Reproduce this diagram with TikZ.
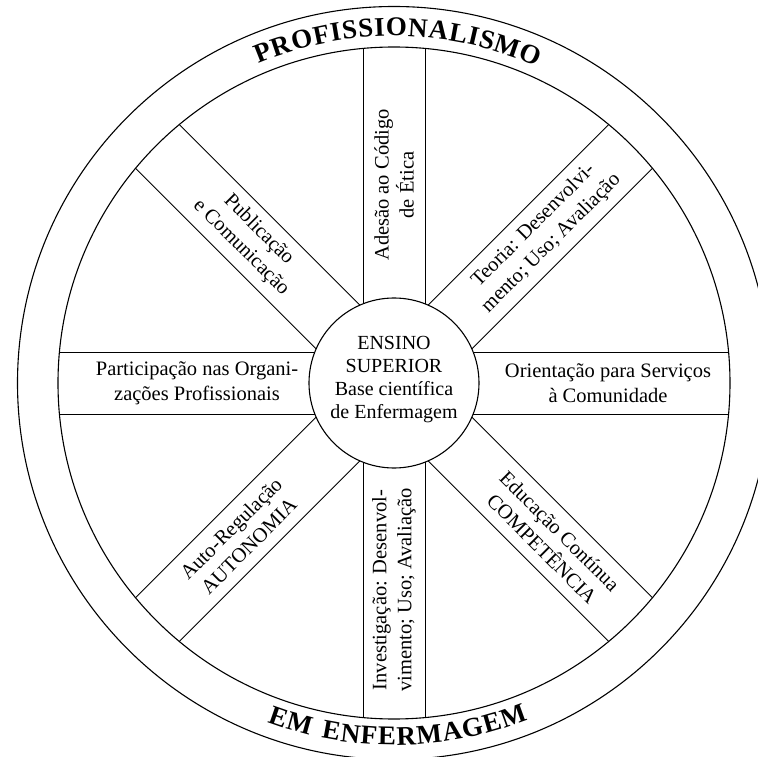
\documentclass[tikz,border=0pt]{standalone}
\usepackage{fontspec}
\setmainfont{Liberation Serif}
\begin{document}
\begin{tikzpicture}[x=1bp,y=1bp,
  ring/.style={line width=1.1bp},
  bandline/.style={line width=0.9bp},
  bandtext/.style={align=center, font=\fontsize{20.5bp}{25bp}\selectfont, inner sep=0pt},
  hubtext/.style={align=center, font=\fontsize{20bp}{23bp}\selectfont, inner sep=0pt},
  arcletter/.style={anchor=base, inner sep=0pt, font=\fontsize{27bp}{30bp}\selectfont\bfseries},
]
\useasboundingbox (-394,-374) rectangle (364,383);
\clip (-394,-374) rectangle (364,383);
\fill[white] (-394,-374) rectangle (364,383);
% rings
\draw[ring] (0,0) circle[radius=376.5];
\draw[ring] (0,0) circle[radius=336];
% hub
\node[circle, draw, ring, minimum size=170bp, inner sep=0pt] (hub) at (0,0) {};
\node[hubtext] (hubt) at (0,3) {ENSINO\\SUPERIOR\\Base científica\\de Enfermagem};
% spokes
\foreach \a in {0,45,...,315} {
  \draw[bandline, rotate=\a] (79.1,31) -- (334.6,31) (79.1,-31) -- (334.6,-31);
}
% spoke texts
\node[bandtext, rotate=90]  (t90)  at (90:198)  {Adesão ao Código\\de Ética};
\node[bandtext, rotate=45]  (t45)  at (45:210)  {Teoria: Desenvolvi-\\mento; Uso; Avaliação};
\node[bandtext]             (t0)   at (0:214)   {Orientação para Serviços\\à Comunidade};
\node[bandtext, rotate=-45] (t315) at (-45:222) {Educação Contínua\\COMPETÊNCIA};
\node[bandtext, rotate=90]  (t270) at (270:207) {Investigação: Desenvol-\\vimento; Uso; Avaliação};
\node[bandtext, rotate=45]  (t225) at (225:218) {Auto-Regulação\\AUTONOMIA};
\node[bandtext]             (t180) at (180:197) {Participação nas Organi-\\zações Profissionais};
\node[bandtext, rotate=-45] (t135) at (135:204) {Publicação\\e Comunicação};
% ring texts, letter by letter
\foreach \ch/\ang [count=\i] in {P/111.61, R/108.50, O/105.02, F/101.79, I/99.43,
    S/97.19, S/94.58, I/92.34, O/89.60, N/86.13, A/82.77, L/79.54, I/77.06,
    S/74.82, M/71.34, O/67.37} {
  \node[arcletter, rotate=\ang-90] (top\i) at (\ang:347) {\ch};
}
\foreach \ch/\ang [count=\i] in {E/250.90, M/254.52, E/259.80, N/262.94, F/265.95,
    E/268.86, R/272.00, M/275.73, A/279.46, G/282.83, E/286.09, M/289.70} {
  \node[arcletter, rotate=\ang+90] (bot\i) at (\ang:362) {\ch};
}
\end{tikzpicture}
\end{document}
